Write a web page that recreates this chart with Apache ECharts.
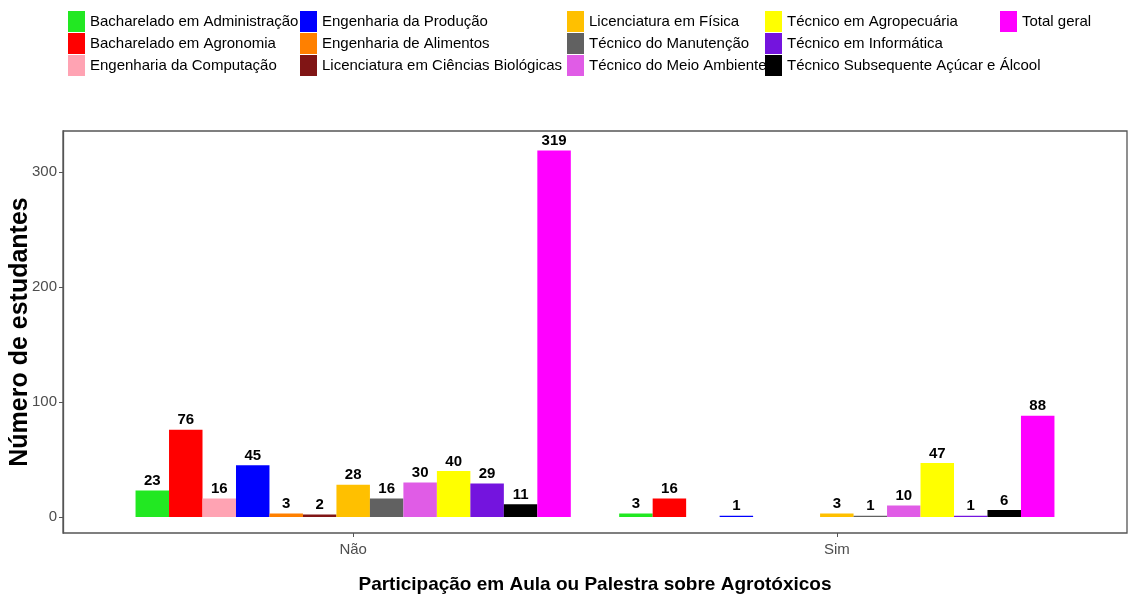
<!DOCTYPE html>
<html>
<head>
<meta charset="utf-8">
<script src="https://cdn.jsdelivr.net/npm/echarts@6/dist/echarts.min.js"></script>
<style>
  html, body { margin: 0; padding: 0; background: #fff; }
  #chart { width: 1131px; height: 596px; }
</style>
</head>
<body>
<div id="chart"></div>
<script>
// ===== 数据 =====
var categories = ['Não', 'Sim'];
var courses = [
    'Bacharelado em Administração', 'Bacharelado em Agronomia', 'Engenharia da Computação',
    'Engenharia da Produção', 'Engenharia de Alimentos', 'Licenciatura em Ciências Biológicas',
    'Licenciatura em Física', 'Técnico do Manutenção', 'Técnico do Meio Ambiente',
    'Técnico em Agropecuária', 'Técnico em Informática', 'Técnico Subsequente Açúcar e Álcool',
    'Total geral'
];
var colors = [
    '#22E822', '#FF0000', '#FFA3B3',
    '#0000FF', '#FF8000', '#801515',
    '#FFC000', '#616161', '#E05CE6',
    '#FFFF00', '#7414DE', '#000000',
    '#FF00FF'
];
// 每门课程: [Não, Sim]
var naoValues = [23, 76, 16, 45, 3, 2, 28, 16, 30, 40, 29, 11, 319];
var simValues = [3, 16, null, 1, null, null, 3, 1, 10, 47, 1, 6, 88];
var yTicks = [0, 100, 200, 300];

var sans = "'Liberation Sans', Arial, sans-serif";
var yMin = -14, yMax = 336;

var chart = echarts.init(document.getElementById('chart'));

// 图例分 5 列
var legendCols = [
    { left: 68, items: [0, 1, 2] },
    { left: 300, items: [3, 4, 5] },
    { left: 567, items: [6, 7, 8] },
    { left: 765, items: [9, 10, 11] },
    { left: 1000, items: [12] }
];
var legends = legendCols.map(function (c) {
    return {
        orient: 'vertical',
        left: c.left,
        top: 11,
        padding: 0,
        itemWidth: 17,
        itemHeight: 21,
        itemGap: 1,
        icon: 'rect',
        selectedMode: false,
        textStyle: { fontFamily: sans, fontSize: 15, color: '#000' },
        data: c.items.map(function (i) { return courses[i]; })
    };
});

var series = courses.map(function (name, i) {
    return {
        name: name,
        type: 'bar',
        xAxisIndex: 1,
        yAxisIndex: 1,
        barGap: '0%',
        barCategoryGap: '10%',
        itemStyle: { color: colors[i] },
        label: {
            show: true,
            position: 'top',
            distance: 2,
            fontFamily: sans,
            fontWeight: 'bold',
            fontSize: 15,
            color: '#000'
        },
        data: [naoValues[i], simValues[i]]
    };
});

// 面板宽 1064，ggplot 类别两侧各扩 0.6 个单位
var panelL = 63, panelR = 4, panelW = 1064;
var unit = panelW / 2.2;
var pad = unit * 0.1;

chart.setOption({
    backgroundColor: '#fff',
    animation: false,
    color: colors,
    legend: legends,
    grid: [
        {   // 外框 + y 轴
            left: panelL, right: panelR, top: 131, bottom: 63,
            outerBoundsMode: 'none', containLabel: false,
            show: true, borderColor: '#555', borderWidth: 1.3
        },
        {   // 柱子
            left: panelL + pad, right: panelR + pad, top: 131, bottom: 63,
            outerBoundsMode: 'none', containLabel: false
        }
    ],
    xAxis: [
        { type: 'value', gridIndex: 0, show: false, min: 0, max: 1 },
        {
            type: 'category',
            gridIndex: 1,
            data: categories,
            name: 'Participação em Aula ou Palestra sobre Agrotóxicos',
            nameLocation: 'middle',
            nameGap: 42,
            nameMoveOverlap: false,
            nameTextStyle: { fontFamily: sans, fontWeight: 'bold', fontSize: 19, color: '#000' },
            axisLine: { show: false, onZero: false },
            axisTick: { show: true, alignWithLabel: true, length: 4, lineStyle: { color: '#555' } },
            axisLabel: { fontFamily: sans, fontSize: 15, color: '#4d4d4d', margin: 9 },
            splitLine: { show: false }
        }
    ],
    yAxis: [
        {
            type: 'value',
            gridIndex: 0,
            min: yMin,
            max: yMax,
            name: 'Número de estudantes',
            nameLocation: 'middle',
            nameGap: 30,
            nameMoveOverlap: false,
            nameTextStyle: { fontFamily: sans, fontWeight: 'bold', fontSize: 25, color: '#000' },
            axisLine: { show: true, onZero: false, lineStyle: { color: '#555', width: 1.3 } },
            axisTick: { show: true, length: 4, lineStyle: { color: '#555' }, customValues: yTicks },
            axisLabel: { fontFamily: sans, fontSize: 15, color: '#4d4d4d', margin: 6, customValues: yTicks },
            splitLine: { show: false }
        },
        { type: 'value', gridIndex: 1, show: false, min: yMin, max: yMax, splitLine: { show: false } }
    ],
    series: series
});
</script>
</body>
</html>
